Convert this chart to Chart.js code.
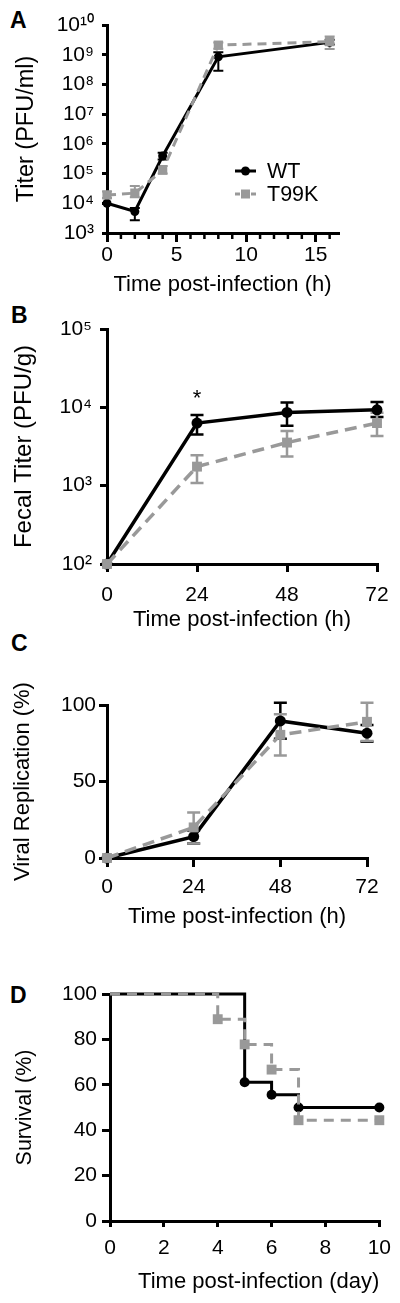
<!DOCTYPE html>
<html>
<head>
<meta charset="utf-8">
<script src="https://cdn.jsdelivr.net/npm/chart.js@4/dist/chart.umd.min.js"></script>
<style>
html, body { margin: 0; padding: 0; background: #fff; }
body { width: 400px; height: 1303px; position: relative; overflow: hidden;
       font-family: "Liberation Sans", Arial, Helvetica, sans-serif; }
canvas { position: absolute; left: 0; }
.panel { position: absolute; font-weight: bold; font-size: 23px; line-height: 1; color: #000; }
</style>
</head>
<body>
<div class="panel" style="left:10px; top:9px;">A</div>
<div class="panel" style="left:11px; top:304px;">B</div>
<div class="panel" style="left:11px; top:632px;">C</div>
<div class="panel" style="left:10px; top:984px;">D</div>
<canvas id="chartA" width="400" height="300" style="top:0px;"></canvas>
<canvas id="chartB" width="400" height="340" style="top:300px;"></canvas>
<canvas id="chartC" width="400" height="320" style="top:640px;"></canvas>
<canvas id="chartD" width="400" height="343" style="top:960px;"></canvas>
<script>
// ---------------- Data ----------------
const seriesNames = ['WT', 'T99K'];

// Panel A: titer in culture (PFU/ml)
const aHours = [0, 2, 4, 8, 16];
const aWT = [1.0e4, 5.3e3, 3.9e5, 8.5e8, 2.6e9];
const aWTLow = [null, 2.7e3, 3.0e5, 2.9e8, 2.2e9];
const aWTHigh = [null, 7.0e3, 5.0e5, 1.2e9, 3.2e9];
const aT99K = [1.9e4, 2.2e4, 1.3e5, 2.1e9, 2.75e9];
const aT99KLow = [1.5e4, 1.6e4, 1.0e5, 1.6e9, 1.55e9];
const aT99KHigh = [2.5e4, 3.8e4, 1.8e5, 2.6e9, 4.1e9];
const aXTicks = [0, 1, 2, 3, 4, 5, 6, 7, 8, 9, 10, 11, 12, 13, 14, 15, 16];
const aXLabels = ['0', '', '', '', '', '5', '', '', '', '', '10', '', '', '', '', '15', ''];
const aYExponents = [3, 4, 5, 6, 7, 8, 9, 10];

// Panel B: fecal titer (PFU/g)
const bHours = [0, 24, 48, 72];
const bWT = [100, 6300, 8600, 9300];
const bWTLow = [null, 4500, 5800, 7500];
const bWTHigh = [null, 8000, 11500, 11700];
const bT99K = [100, 1750, 3550, 6300];
const bT99KLow = [null, 1080, 2350, 4300];
const bT99KHigh = [null, 2450, 5000, 8500];
const bXTicks = [0, 24, 48, 72];
const bXLabels = ['0', '24', '48', '72'];
const bYExponents = [2, 3, 4, 5];
const bSignificant = [24];

// Panel C: viral replication (%)
const cHours = [0, 24, 48, 72];
const cWT = [0, 14, 89.6, 81.6];
const cWTLow = [null, 9.5, 78, 76];
const cWTHigh = [null, 18, 101.5, 87];
const cT99K = [0, 20, 80.5, 89];
const cT99KLow = [null, 9.5, 67, 76.5];
const cT99KHigh = [null, 29.7, 94, 101.5];
const cXTicks = [0, 24, 48, 72];
const cXLabels = ['0', '24', '48', '72'];
const cYTicks = [0, 50, 100];
const cYLabels = ['0', '50', '100'];

// Panel D: survival (%)
const dWTDays = [0, 5, 6, 7, 10];
const dWT = [100, 61.1, 55.6, 50, 50];
const dT99KDays = [0, 4, 5, 6, 7, 10];
const dT99K = [100, 88.9, 77.8, 66.7, 44.4, 44.4];
const dXTicks = [0, 2, 4, 6, 8, 10];
const dXLabels = ['0', '2', '4', '6', '8', '10'];
const dYTicks = [0, 20, 40, 60, 80, 100];
const dYLabels = ['0', '20', '40', '60', '80', '100'];

// ---------------- Styling helpers ----------------
const FONT = '"Liberation Sans", Arial, Helvetica, sans-serif';
Chart.defaults.font.family = FONT;
Chart.defaults.color = '#000';
const BLACK = '#000000';
const GRAY = '#999999';

const SUP = { '0': '\u2070', '1': '\u00B9', '2': '\u00B2', '3': '\u00B3', '4': '\u2074',
              '5': '\u2075', '6': '\u2076', '7': '\u2077', '8': '\u2078', '9': '\u2079' };
function pow10Label(e) { return '10' + String(e).split('').map(c => SUP[c]).join(''); }

function xAxis(o) {
  return {
    type: 'linear', position: 'bottom', min: o.min, max: o.max,
    afterBuildTicks: s => { s.ticks = o.values.map(v => ({ value: v })); },
    afterFit: s => { s.height = o.height; },
    ticks: { autoSkip: false, maxRotation: 0, minRotation: 0, padding: o.pad, color: '#000',
             font: { size: 21 }, callback: (v, i) => o.labels[i] },
    grid: { display: true, drawOnChartArea: false, drawTicks: true, tickLength: o.tickLen,
            lineWidth: 3, tickWidth: 3, color: '#000', tickColor: o.tickColor || '#000' },
    border: { display: true, color: '#000', width: 3 },
    title: { display: true, text: o.title, color: '#000', font: { size: o.titleSize || 22 },
             align: o.align || 'center', padding: { top: 0, bottom: o.titlePad } }
  };
}
function yAxis(o) {
  return {
    type: o.type || 'linear', position: 'left', min: o.min, max: o.max,
    afterBuildTicks: s => { s.ticks = o.values.map(v => ({ value: v })); },
    afterFit: s => { s.width = o.width; },
    ticks: { autoSkip: false, padding: o.pad, color: '#000', crossAlign: 'near',
             font: { size: 21 }, callback: (v, i) => o.labels[i] },
    grid: { display: true, drawOnChartArea: false, drawTicks: true, tickLength: o.tickLen,
            lineWidth: 3, tickWidth: 3, color: '#000', tickColor: '#000' },
    border: { display: true, color: '#000', width: 3 },
    title: { display: true, text: o.title, color: '#000', font: { size: o.titleSize || 22 },
             padding: { top: o.titlePad, bottom: 0 } }
  };
}
function lineDS(label, xs, ys, color, extra) {
  return Object.assign({
    label: label,
    data: xs.map((x, i) => ({ x: x, y: ys[i] })),
    borderColor: color, backgroundColor: color,
    pointBackgroundColor: color, pointBorderColor: color, pointBorderWidth: 0,
    borderWidth: 3, tension: 0, clip: false, fill: false
  }, extra);
}
function errorBars(specs, cap, width) {
  return {
    id: 'errorBars',
    beforeDatasetsDraw(chart) {
      const ctx = chart.ctx, xs = chart.scales.x, ys = chart.scales.y;
      ctx.save();
      ctx.lineWidth = width;
      specs.forEach(sp => {
        ctx.strokeStyle = sp.color;
        sp.x.forEach((xv, i) => {
          const lo = sp.low[i], hi = sp.high[i];
          if (lo == null || hi == null) return;
          const px = xs.getPixelForValue(xv);
          const pl = ys.getPixelForValue(lo), ph = ys.getPixelForValue(hi);
          ctx.beginPath();
          ctx.moveTo(px, pl); ctx.lineTo(px, ph);
          ctx.moveTo(px - cap, pl); ctx.lineTo(px + cap, pl);
          ctx.moveTo(px - cap, ph); ctx.lineTo(px + cap, ph);
          ctx.stroke();
        });
      });
      ctx.restore();
    }
  };
}
const baseOptions = (padding, scales) => ({
  responsive: false, animation: false, devicePixelRatio: 1, events: [],
  layout: { padding: padding },
  plugins: { legend: { display: false }, tooltip: { enabled: false } },
  scales: scales
});

// ---------------- Panel A ----------------
const minorTicksA = {
  id: 'minorTicksA',
  afterDraw(chart) {
    const ctx = chart.ctx, xs = chart.scales.x, y0 = chart.chartArea.bottom;
    ctx.save();
    ctx.strokeStyle = '#000'; ctx.lineWidth = 2.5;
    xs.ticks.forEach((t, i) => {
      if (aXLabels[i] !== '') return;
      const px = xs.getPixelForValue(t.value);
      ctx.beginPath(); ctx.moveTo(px, y0); ctx.lineTo(px, y0 + 6); ctx.stroke();
    });
    ctx.restore();
  }
};
const legendA = {
  id: 'legendA',
  afterDraw(chart) {
    const ctx = chart.ctx;
    const rows = [
      { ds: chart.data.datasets.find(d => d.label === 'WT'), y: 171 },
      { ds: chart.data.datasets.find(d => d.label === 'T99K'), y: 194 }
    ];
    ctx.save();
    rows.forEach(r => {
      const ds = r.ds;
      ctx.strokeStyle = ds.borderColor; ctx.fillStyle = ds.borderColor;
      ctx.lineWidth = 3;
      ctx.setLineDash(ds.borderDash ? [5, 3] : []);
      ctx.beginPath(); ctx.moveTo(235, r.y); ctx.lineTo(256, r.y); ctx.stroke();
      ctx.setLineDash([]);
      if (ds.pointStyle === 'rect') {
        ctx.fillRect(245.5 - 4.5, r.y - 4.5, 9, 9);
      } else {
        ctx.beginPath(); ctx.arc(245.5, r.y, 4.5, 0, Math.PI * 2); ctx.fill();
      }
      ctx.fillStyle = '#000';
      ctx.font = '21.5px ' + FONT;
      ctx.textBaseline = 'middle'; ctx.textAlign = 'left';
      ctx.fillText(ds.label, 267, r.y + 1);
    });
    ctx.restore();
  }
};
new Chart(document.getElementById('chartA'), {
  type: 'line',
  data: { datasets: [
    lineDS(seriesNames[1], aHours, aT99K, GRAY, { order: 0, borderDash: [9, 6], pointStyle: 'rect', pointRadius: 6.5 }),
    lineDS(seriesNames[0], aHours, aWT, BLACK, { order: 1, pointStyle: 'circle', pointRadius: 4.5 })
  ] },
  options: baseOptions({ top: 25, right: 62, bottom: 0, left: 0 }, {
    x: xAxis({ min: 0, max: 16.6, values: aXTicks, labels: aXLabels, height: 67, pad: 1, tickLen: 9,
               tickColor: ctx => (aXLabels[ctx.index] === '' ? 'rgba(0,0,0,0)' : '#000'),
               title: 'Time post-infection (h)', titlePad: 2 }),
    y: yAxis({ type: 'logarithmic', min: 1e3, max: 1e10, values: aYExponents.map(e => Math.pow(10, e)),
               labels: aYExponents.map(pow10Label), width: 107, pad: 8, tickLen: 5,
               title: 'Titer (PFU/ml)', titlePad: 12, titleSize: 23.5 })
  }),
  plugins: [
    errorBars([
      { x: aHours, low: aWTLow, high: aWTHigh, color: BLACK },
      { x: aHours, low: aT99KLow, high: aT99KHigh, color: GRAY }
    ], 5, 2),
    minorTicksA, legendA
  ]
});

// ---------------- Panel B ----------------
const asteriskB = {
  id: 'asteriskB',
  afterDraw(chart) {
    const ctx = chart.ctx, xs = chart.scales.x, ys = chart.scales.y;
    ctx.save();
    ctx.fillStyle = '#000'; ctx.font = '22px ' + FONT;
    ctx.textAlign = 'center'; ctx.textBaseline = 'alphabetic';
    bSignificant.forEach(h => {
      const i = bHours.indexOf(h);
      ctx.fillText('*', xs.getPixelForValue(h), ys.getPixelForValue(bWTHigh[i]) - 10);
    });
    ctx.restore();
  }
};
new Chart(document.getElementById('chartB'), {
  type: 'line',
  data: { datasets: [
    lineDS(seriesNames[1], bHours, bT99K, GRAY, { order: 0, borderWidth: 3.5, borderDash: [12, 7], pointStyle: 'rect', pointRadius: 7 }),
    lineDS(seriesNames[0], bHours, bWT, BLACK, { order: 1, borderWidth: 3.5, pointStyle: 'circle', pointRadius: 5.5 })
  ] },
  options: baseOptions({ top: 29, right: 23, bottom: 0, left: 0 }, {
    x: xAxis({ min: 0, max: 72, values: bXTicks, labels: bXLabels, height: 76, pad: 11, tickLen: 8,
               title: 'Time post-infection (h)', titlePad: 7 }),
    y: yAxis({ type: 'logarithmic', min: 1e2, max: 1e5, values: bYExponents.map(e => Math.pow(10, e)),
               labels: bYExponents.map(pow10Label), width: 107, pad: 8, tickLen: 7,
               title: 'Fecal Titer (PFU/g)', titlePad: 10, titleSize: 24 })
  }),
  plugins: [
    errorBars([
      { x: bHours, low: bWTLow, high: bWTHigh, color: BLACK },
      { x: bHours, low: bT99KLow, high: bT99KHigh, color: GRAY }
    ], 6.5, 2.5),
    asteriskB
  ]
});

// ---------------- Panel C ----------------
new Chart(document.getElementById('chartC'), {
  type: 'line',
  data: { datasets: [
    lineDS(seriesNames[1], cHours, cT99K, GRAY, { order: 0, borderWidth: 3.5, borderDash: [12, 7], pointStyle: 'rect', pointRadius: 7 }),
    lineDS(seriesNames[0], cHours, cWT, BLACK, { order: 1, borderWidth: 3.5, pointStyle: 'circle', pointRadius: 5.5 })
  ] },
  options: baseOptions({ top: 65, right: 33, bottom: 0, left: 0 }, {
    x: xAxis({ min: 0, max: 72, values: cXTicks, labels: cXLabels, height: 102, pad: 8, tickLen: 9,
               title: 'Time post-infection (h)', titlePad: 30 }),
    y: yAxis({ min: 0, max: 100, values: cYTicks, labels: cYLabels, width: 107, pad: 3, tickLen: 8,
               title: 'Viral Replication (%)', titlePad: 10 })
  }),
  plugins: [
    errorBars([
      { x: cHours, low: cWTLow, high: cWTHigh, color: BLACK },
      { x: cHours, low: cT99KLow, high: cT99KHigh, color: GRAY }
    ], 6.5, 2.5)
  ]
});

// ---------------- Panel D ----------------
new Chart(document.getElementById('chartD'), {
  type: 'line',
  data: { datasets: [
    lineDS(seriesNames[1], dT99KDays, dT99K, GRAY, { order: 0, stepped: true, borderDash: [10, 7], pointStyle: 'rect',
                                      pointRadius: ctx => (ctx.dataIndex === 0 ? 0 : 7) }),
    lineDS(seriesNames[0], dWTDays, dWT, BLACK, { order: 1, stepped: true, pointStyle: 'circle',
                                      pointRadius: ctx => (ctx.dataIndex === 0 ? 0 : 5) })
  ] },
  options: baseOptions({ top: 34, right: 17, bottom: 0, left: 0 }, {
    x: xAxis({ min: 0, max: 10, values: dXTicks, labels: dXLabels, height: 82, pad: 9, tickLen: 6,
               title: 'Time post-infection (day)', titlePad: 8, align: 'end' }),
    y: yAxis({ min: 0, max: 100, values: dYTicks, labels: dYLabels, width: 110, pad: 5, tickLen: 8,
               title: 'Survival (%)', titlePad: 12, titleSize: 21.5 })
  })
});
</script>
</body>
</html>
